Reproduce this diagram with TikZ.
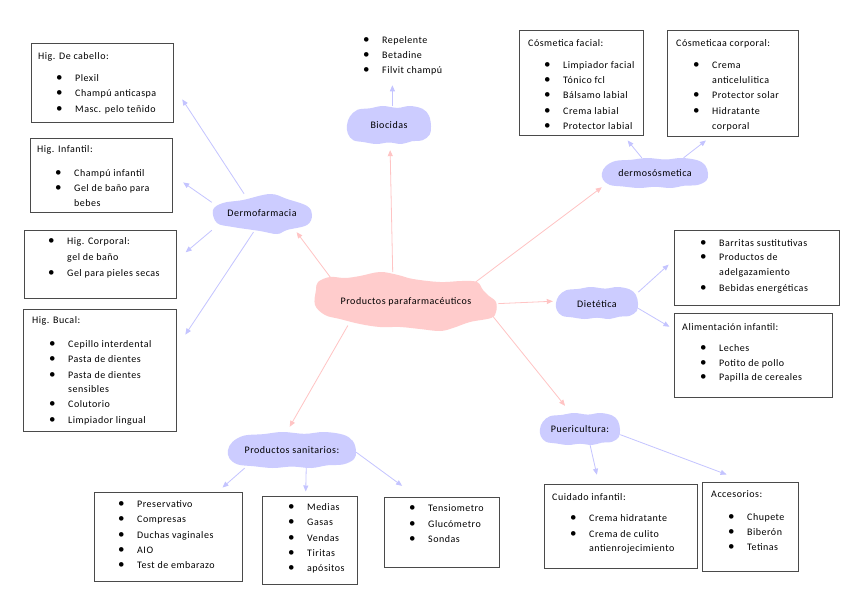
\documentclass[tikz,border=0pt]{standalone}
\usepackage{fontspec}
\setmainfont{Carlito}[LetterSpace=5]
\usetikzlibrary{arrows.meta,shapes.geometric}
\pgfdeclarelayer{arrowlayer}
\pgfdeclarelayer{blobl}
\pgfsetlayers{arrowlayer,blobl,main}
\definecolor{pinkf}{HTML}{FFCCCC}
\definecolor{bluef}{HTML}{CCCCFF}
\definecolor{pinkl}{HTML}{FFC4C4}
\definecolor{bluel}{HTML}{C4C4FF}
\definecolor{boxl}{HTML}{4A4A4A}
\newcommand\bu{\makebox[19pt][l]{\scalebox{1.3}{\textbullet}}}
\newcommand\itm[4]{\node[txt] (#1) at ({#2-19},{#3+3}) {\bu #4};}
\newcommand\lin[4]{\node[txt] (#1) at (#2,{#3+3}) {#4};}
\newcommand\genblob[5]{\begin{scope}[shift={(#1,#2)},xscale=#3,yscale=#4]
\fill[#5] plot[smooth cycle,tension=0.6] coordinates {(1,0.05) (0.97,0.5) (0.8,0.8) (0.55,0.85) (0.3,1.0) (0.0,0.92) (-0.3,1.0) (-0.6,0.9) (-0.85,0.8) (-0.98,0.45) (-1,0) (-0.93,-0.45) (-0.75,-0.8) (-0.45,-0.88) (-0.15,-1.0) (0.2,-0.9) (0.5,-1.0) (0.8,-0.85) (0.95,-0.5)};
\end{scope}}
\begin{document}
\begin{tikzpicture}[x=1pt,y=-1pt,
  font=\fontsize{10}{12}\selectfont,
  txt/.style={anchor=base west,inner sep=0pt},
  box/.style={draw=boxl,line width=1pt,inner sep=0pt},
  blobnode/.style={inner sep=0pt},
  parr/.style={draw=pinkl,line width=0.8pt,-{Triangle[length=6pt,width=5pt]}},
  barr/.style={draw=bluel,line width=0.8pt,-{Triangle[length=6pt,width=5pt]}}]
\useasboundingbox (0,0) rectangle (848,599);
\begin{pgfonlayer}{arrowlayer}
\fill[white] (0,0) rectangle (848,599);
\end{pgfonlayer}
% blobs
\begin{pgfonlayer}{blobl}
\fill[pinkf] plot[smooth cycle,tension=0.6] coordinates {(316,290) (318,282) (330,277) (345,278) (360,276) (380,272) (398,275) (413,279) (440,282) (462,281) (477,282) (483,290) (489,296) (496,302) (496,312) (491,318) (470,322) (453,328) (440,331) (420,329) (400,327) (380,327) (360,324) (340,319) (325,315) (315,305)};
\fill[bluef] plot[smooth cycle,tension=0.6] coordinates {(213,210) (223,203) (243,200) (270,194) (287,199) (307,206) (312,215) (307,225) (287,230) (277,234) (260,231) (233,227) (217,223)};
\genblob{389}{125}{42}{19}{bluef}
\genblob{655}{173}{53}{15}{bluef}
\genblob{597}{303}{41}{16}{bluef}
\genblob{292}{450}{64}{18}{bluef}
\genblob{580}{429}{40}{16}{bluef}
\end{pgfonlayer}
% blob nodes
\node[ellipse,blobnode,minimum width=182pt,minimum height=60pt] (main) at (406,302) {Productos parafarmacéuticos};
\node[blobnode,minimum width=100pt,minimum height=38pt] (dermof) at (262,213) {Dermofarmacia};
\node[blobnode,minimum width=84pt,minimum height=38pt] (bioc) at (389,125) {Biocidas};
\node[blobnode,minimum width=106pt,minimum height=30pt] (dermos) at (655,173) {dermosósmetica};
\node[blobnode,minimum width=82pt,minimum height=30pt] (diet) at (597,304) {Dietética};
\node[blobnode,minimum width=128pt,minimum height=36pt] (sanit) at (292,450) {Productos sanitarios:};
\node[blobnode,minimum width=80pt,minimum height=32pt] (puer) at (580,429) {Puericultura:};
% boxes
\node[box,minimum width=142pt,minimum height=79pt] (bxA) at (102,83.5) {};
\node[box,minimum width=142pt,minimum height=74pt] (bxB) at (101,175) {};
\node[box,minimum width=152pt,minimum height=68pt] (bxC) at (100,264) {};
\node[box,minimum width=153pt,minimum height=122pt] (bxD) at (99.5,370) {};
\node[box,minimum width=124pt,minimum height=104pt] (bxF) at (581,83) {};
\node[box,minimum width=131pt,minimum height=105pt] (bxG) at (732.5,83.5) {};
\node[box,minimum width=165pt,minimum height=75pt] (bxH) at (756.5,267.5) {};
\node[box,minimum width=158pt,minimum height=84pt] (bxI) at (753,355) {};
\node[box,minimum width=148pt,minimum height=89pt] (bxJ) at (168,536.5) {};
\node[box,minimum width=95pt,minimum height=88pt] (bxK) at (309.5,540) {};
\node[box,minimum width=115pt,minimum height=70pt] (bxL) at (441.5,532) {};
\node[box,minimum width=153pt,minimum height=84pt] (bxM) at (620.5,526) {};
\node[box,minimum width=96pt,minimum height=89pt] (bxN) at (750,526.5) {};
% texts
\lin{a0}{38}{57}{Hig. De cabello:}
\itm{a1}{75}{79}{Plexil}
\itm{a2}{75}{94}{Champú anticaspa}
\itm{a3}{75}{110}{Masc. pelo teñido}
\lin{b0}{37}{149}{Hig. Infantil:}
\itm{b1}{74}{173}{Champú infantil}
\itm{b2}{74}{188}{Gel de baño para}
\lin{b3}{74}{203}{bebes}
\itm{c1}{67}{241}{Hig. Corporal:}
\lin{c2}{67}{257}{gel de baño}
\itm{c3}{67}{273}{Gel para pieles secas}
\lin{d0}{32}{320}{Hig. Bucal:}
\itm{d1}{68}{344}{Cepillo interdental}
\itm{d2}{68}{359}{Pasta de dientes}
\itm{d3}{68}{375}{Pasta de dientes}
\lin{d4}{68}{389}{sensibles}
\itm{d5}{68}{404}{Colutorio}
\itm{d6}{68}{420}{Limpiador lingual}
\itm{bio1}{382}{41}{Repelente}
\itm{bio2}{382}{56}{Betadine}
\itm{bio3}{382}{71}{Filvit champú}
\lin{f0}{528}{44}{Cósmetica facial:}
\itm{f1}{563}{66}{Limpiador facial}
\itm{f2}{563}{81}{Tónico fcl}
\itm{f3}{563}{96}{Bálsamo labial}
\itm{f4}{563}{111}{Crema labial}
\itm{f5}{563}{127}{Protector labial}
\lin{g0}{676}{44}{Cósmeticaa corporal:}
\itm{g1}{712}{66}{Crema}
\lin{g2}{712}{81}{anticelulitica}
\itm{g3}{712}{96}{Protector solar}
\itm{g4}{712}{111}{Hidratante}
\lin{g5}{712}{126}{corporal}
\itm{h1}{719}{243}{Barritas sustitutivas}
\itm{h2}{719}{257}{Productos de}
\lin{h3}{719}{272}{adelgazamiento}
\itm{h4}{719}{288}{Bebidas energéticas}
\lin{i0}{682}{327}{Alimentación infantil:}
\itm{i1}{719}{348}{Leches}
\itm{i2}{719}{363}{Potito de pollo}
\itm{i3}{719}{377}{Papilla de cereales}
\itm{j1}{137}{504}{Preservativo}
\itm{j2}{137}{519}{Compresas}
\itm{j3}{137}{535}{Duchas vaginales}
\itm{j4}{137}{550}{AIO}
\itm{j5}{137}{565}{Test de embarazo}
\itm{k1}{307}{507}{Medias}
\itm{k2}{307}{522}{Gasas}
\itm{k3}{307}{538}{Vendas}
\itm{k4}{307}{553}{Tiritas}
\itm{k5}{307}{568}{apósitos}
\itm{l1}{428}{508}{Tensiometro}
\itm{l2}{428}{524}{Glucómetro}
\itm{l3}{428}{539}{Sondas}
\lin{m0}{552}{497}{Cuidado infantil:}
\itm{m1}{589}{518}{Crema hidratante}
\itm{m2}{589}{534}{Crema de culito}
\lin{m3}{589}{548}{antienrojecimiento}
\lin{n0}{711}{494}{Accesorios:}
\itm{n1}{747}{517}{Chupete}
\itm{n2}{747}{532}{Biberón}
\itm{n3}{747}{547}{Tetinas}
% arrows
\begin{pgfonlayer}{arrowlayer}
\draw[parr] (main.165) -- (dermof.-29);
\draw[parr,shorten >=6pt] (main.114) -- (bioc.-87);
\draw[parr] (main.16) -- (dermos.195);
\draw[parr,shorten >=3pt] (main.-1) -- (diet.176);
\draw[parr,shorten >=5.8pt] (main.202) -- (sanit.106);
\draw[parr,shorten >=9pt] (main.-8) -- (puer.120);
\draw[barr,shorten >=16pt] (dermof.133) -- (bxA.-2);
\draw[barr,shorten >=13pt] (dermof.168) -- (bxB.0);
\draw[barr,shorten >=12pt] (dermof.199) -- (bxC.3);
\draw[barr,shorten >=16pt] (dermof.246) -- (bxD.16);
\draw[barr,shorten >=9.5pt] (bioc.80) -- (bioc.80 |- bio3.south);
\draw[barr,shorten >=6.5pt] (dermos.131) -- (bxF.-51);
\draw[barr,shorten >=6.5pt] (dermos.28) -- (bxG.-112);
\draw[barr,shorten >=6.5pt] (diet.16) -- (bxH.175);
\draw[barr,shorten >=4.7pt] (diet.-6) -- (bxI.162);
\draw[barr,shorten >=6pt] (sanit.201) -- (bxJ.42);
\draw[barr,shorten >=4pt] (sanit.-52) -- (bxK.95);
\draw[barr,shorten >=18pt] (sanit.-2) -- (bxL.125);
\draw[barr,shorten >=9pt] (puer.-58) -- (bxM.117);
\draw[barr,shorten >=20pt] (puer.-8) -- (bxN.96);
\end{pgfonlayer}
\end{tikzpicture}
\end{document}
